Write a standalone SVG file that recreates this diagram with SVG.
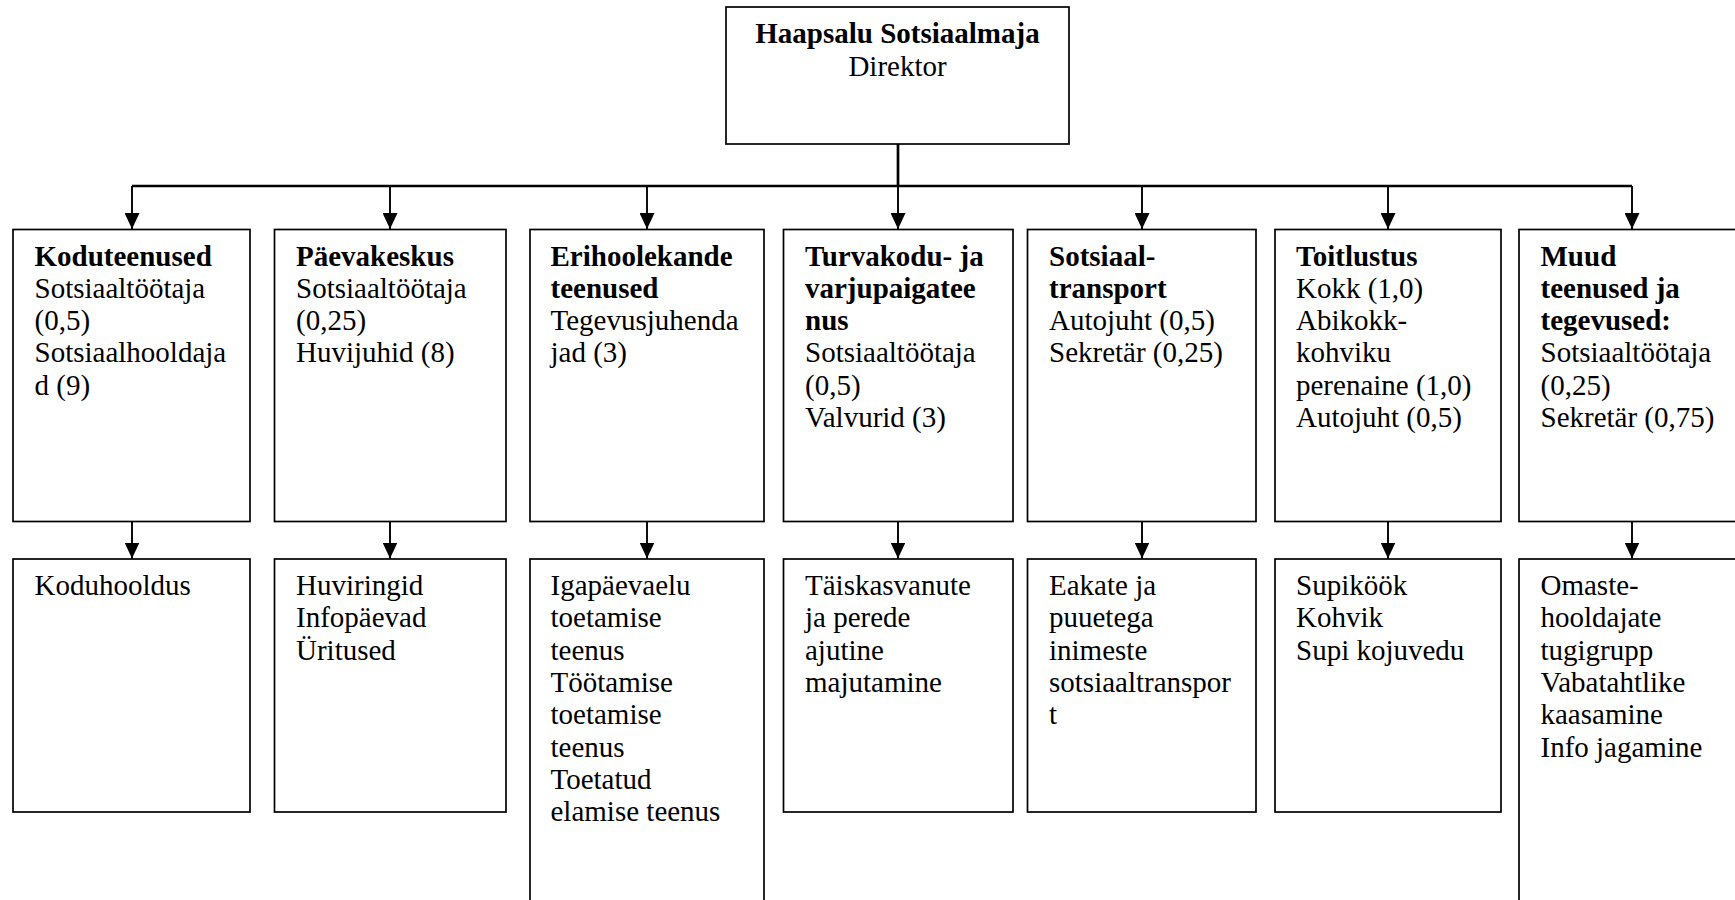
<svg xmlns="http://www.w3.org/2000/svg" width="1735" height="900" viewBox="0 0 1735 900">
<style>
.box{fill:#fff;stroke:#000;stroke-width:1.7}
.t{font-family:"Liberation Serif","Times New Roman",serif;font-size:29px;fill:#000}
.b{font-weight:bold}
.c{fill:none;stroke:#000;stroke-width:1.9}
.h{fill:none;stroke:#000;stroke-width:2.7}
</style>
<defs>
<marker id="ah" markerUnits="userSpaceOnUse" markerWidth="16" markerHeight="15" viewBox="0 0 16 15" refX="16" refY="7.5" orient="auto">
<path d="M0,0 L16,7.5 L0,15 Z" fill="#000"/>
</marker>
</defs>
<rect width="1735" height="900" fill="#fff"/>
<g id="connectors">
<line class="h" x1="898" y1="144" x2="898" y2="187"/>
<line class="h" x1="132" y1="186" x2="1632" y2="186"/>
<g marker-end="url(#ah)">
<line class="c" x1="132" y1="186" x2="132" y2="229"/>
<line class="c" x1="390" y1="186" x2="390" y2="229"/>
<line class="c" x1="647" y1="186" x2="647" y2="229"/>
<line class="c" x1="898" y1="186" x2="898" y2="229"/>
<line class="c" x1="1142" y1="186" x2="1142" y2="229"/>
<line class="c" x1="1388" y1="186" x2="1388" y2="229"/>
<line class="c" x1="1632" y1="186" x2="1632" y2="229"/>
<line class="c" x1="132" y1="521" x2="132" y2="558.5"/>
<line class="c" x1="390" y1="521" x2="390" y2="558.5"/>
<line class="c" x1="647" y1="521" x2="647" y2="558.5"/>
<line class="c" x1="898" y1="521" x2="898" y2="558.5"/>
<line class="c" x1="1142" y1="521" x2="1142" y2="558.5"/>
<line class="c" x1="1388" y1="521" x2="1388" y2="558.5"/>
<line class="c" x1="1632" y1="521" x2="1632" y2="558.5"/>
</g>
</g>
<g id="director">
<rect class="box" x="726" y="7" width="343" height="137"/>
<text class="t" text-anchor="middle" x="897.5" y="43.3"><tspan class="b">Haapsalu Sotsiaalmaja</tspan><tspan x="897.5" dy="32.3">Direktor</tspan></text>
</g>
<g id="koduteenused">
<rect class="box" x="13" y="229.5" width="237" height="292"/>
<text class="t" y="265.5"><tspan class="b" x="34.5">Koduteenused</tspan><tspan x="34.5" dy="32.3">Sotsiaaltöötaja</tspan><tspan x="34.5" dy="32.3">(0,5)</tspan><tspan x="34.5" dy="32.3">Sotsiaalhooldaja</tspan><tspan x="34.5" dy="32.3">d (9)</tspan></text>
</g>
<g id="paevakeskus">
<rect class="box" x="274.5" y="229.5" width="231.5" height="292"/>
<text class="t" y="265.5"><tspan class="b" x="296">Päevakeskus</tspan><tspan x="296" dy="32.3">Sotsiaaltöötaja</tspan><tspan x="296" dy="32.3">(0,25)</tspan><tspan x="296" dy="32.3">Huvijuhid (8)</tspan></text>
</g>
<g id="erihoolekande">
<rect class="box" x="530" y="229.5" width="234" height="292"/>
<text class="t" y="265.5"><tspan class="b" x="550.5">Erihoolekande</tspan><tspan class="b" x="550.5" dy="32.3">teenused</tspan><tspan x="550.5" dy="32.3">Tegevusjuhenda</tspan><tspan x="550.5" dy="32.3">jad (3)</tspan></text>
</g>
<g id="turvakodu">
<rect class="box" x="783.5" y="229.5" width="229.5" height="292"/>
<text class="t" y="265.5"><tspan class="b" x="805">Turvakodu- ja</tspan><tspan class="b" x="805" dy="32.3">varjupaigatee</tspan><tspan class="b" x="805" dy="32.3">nus</tspan><tspan x="805" dy="32.3">Sotsiaaltöötaja</tspan><tspan x="805" dy="32.3">(0,5)</tspan><tspan x="805" dy="32.3">Valvurid (3)</tspan></text>
</g>
<g id="sotsiaaltransport">
<rect class="box" x="1027.5" y="229.5" width="228.5" height="292"/>
<text class="t" y="265.5"><tspan class="b" x="1049">Sotsiaal-</tspan><tspan class="b" x="1049" dy="32.3">transport</tspan><tspan x="1049" dy="32.3">Autojuht (0,5)</tspan><tspan x="1049" dy="32.3">Sekretär (0,25)</tspan></text>
</g>
<g id="toitlustus">
<rect class="box" x="1275" y="229.5" width="226" height="292"/>
<text class="t" y="265.5"><tspan class="b" x="1296">Toitlustus</tspan><tspan x="1296" dy="32.3">Kokk (1,0)</tspan><tspan x="1296" dy="32.3">Abikokk-</tspan><tspan x="1296" dy="32.3">kohviku</tspan><tspan x="1296" dy="32.3">perenaine (1,0)</tspan><tspan x="1296" dy="32.3">Autojuht (0,5)</tspan></text>
</g>
<g id="muud">
<rect class="box" x="1519" y="229.5" width="226" height="292"/>
<text class="t" y="265.5"><tspan class="b" x="1540.5">Muud</tspan><tspan class="b" x="1540.5" dy="32.3">teenused ja</tspan><tspan class="b" x="1540.5" dy="32.3">tegevused:</tspan><tspan x="1540.5" dy="32.3">Sotsiaaltöötaja</tspan><tspan x="1540.5" dy="32.3">(0,25)</tspan><tspan x="1540.5" dy="32.3">Sekretär (0,75)</tspan></text>
</g>
<g id="koduhooldus">
<rect class="box" x="13" y="559" width="237" height="253"/>
<text class="t" x="34.5" y="595">Koduhooldus</text>
</g>
<g id="huviringid">
<rect class="box" x="274.5" y="559" width="231.5" height="253"/>
<text class="t" y="595"><tspan x="296">Huviringid</tspan><tspan x="296" dy="32.3">Infopäevad</tspan><tspan x="296" dy="32.3">Üritused</tspan></text>
</g>
<g id="igapaevaelu">
<rect class="box" x="530" y="559" width="234" height="370"/>
<text class="t" y="595"><tspan x="550.5">Igapäevaelu</tspan><tspan x="550.5" dy="32.3">toetamise</tspan><tspan x="550.5" dy="32.3">teenus</tspan><tspan x="550.5" dy="32.3">Töötamise</tspan><tspan x="550.5" dy="32.3">toetamise</tspan><tspan x="550.5" dy="32.3">teenus</tspan><tspan x="550.5" dy="32.3">Toetatud</tspan><tspan x="550.5" dy="32.3">elamise teenus</tspan></text>
</g>
<g id="taiskasvanute">
<rect class="box" x="783.5" y="559" width="229.5" height="253"/>
<text class="t" y="595"><tspan x="805">Täiskasvanute</tspan><tspan x="805" dy="32.3">ja perede</tspan><tspan x="805" dy="32.3">ajutine</tspan><tspan x="805" dy="32.3">majutamine</tspan></text>
</g>
<g id="eakate">
<rect class="box" x="1027.5" y="559" width="228.5" height="253"/>
<text class="t" y="595"><tspan x="1049">Eakate ja</tspan><tspan x="1049" dy="32.3">puuetega</tspan><tspan x="1049" dy="32.3">inimeste</tspan><tspan x="1049" dy="32.3">sotsiaaltranspor</tspan><tspan x="1049" dy="32.3">t</tspan></text>
</g>
<g id="supikook">
<rect class="box" x="1275" y="559" width="226" height="253"/>
<text class="t" y="595"><tspan x="1296">Supiköök</tspan><tspan x="1296" dy="32.3">Kohvik</tspan><tspan x="1296" dy="32.3">Supi kojuvedu</tspan></text>
</g>
<g id="omaste">
<rect class="box" x="1519" y="559" width="226" height="370"/>
<text class="t" y="595"><tspan x="1540.5">Omaste-</tspan><tspan x="1540.5" dy="32.3">hooldajate</tspan><tspan x="1540.5" dy="32.3">tugigrupp</tspan><tspan x="1540.5" dy="32.3">Vabatahtlike</tspan><tspan x="1540.5" dy="32.3">kaasamine</tspan><tspan x="1540.5" dy="32.3">Info jagamine</tspan></text>
</g>
</svg>
